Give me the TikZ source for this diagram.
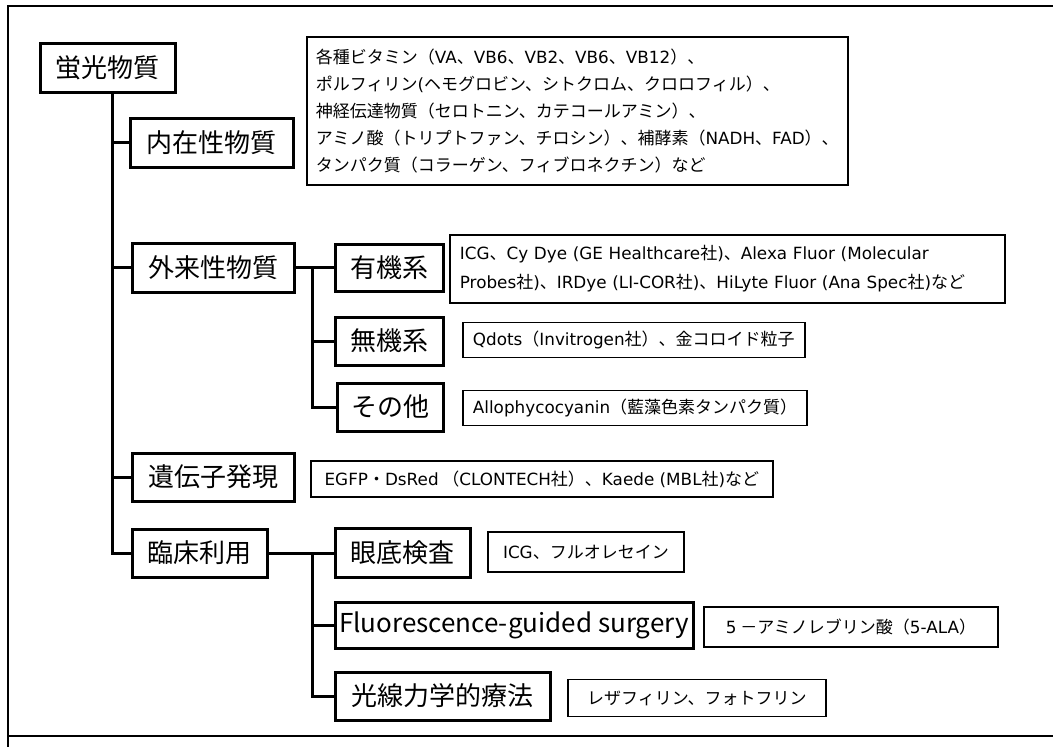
\documentclass[tikz,border=0pt]{standalone}
\usepackage{fontspec}
\setmainfont{Noto Sans CJK JP}
\newfontfamily\latfont{DejaVu Sans}
\newcommand\Lt[1]{{\latfont\fontsize{16.8}{27}\selectfont #1}}
\begin{document}
\begin{tikzpicture}[x=1pt,y=-1pt,
  big/.style={draw, line width=3pt, font=\fontsize{26}{30}\selectfont, inner sep=0pt, minimum height=48pt},
  small/.style={draw, line width=1.8pt, font=\fontsize{17}{27}\selectfont, inner xsep=10pt, inner ysep=0pt, anchor=west, align=left},
  conn/.style={line width=3pt},
  frame/.style={line width=1.5pt}]
\useasboundingbox (0,0) rectangle (1053,747);
% frame
\draw[frame] (1053,6) -- (8,6) -- (8,747);
\draw[frame] (8,736) -- (1053,736);
% main boxes
\node[big, minimum width=135pt, minimum height=49pt] (root) at (107.5,67.5) {蛍光物質};
\node[big, minimum width=163pt, minimum height=49pt] (naizai) at (211.5,142.5) {内在性物質};
\node[big, minimum width=162pt, minimum height=49pt] (gairai) at (213,267.5) {外来性物質};
\node[big, minimum width=108pt, minimum height=47pt] (yuki) at (389,267.5) {有機系};
\node[big, minimum width=108pt] (muki) at (389,341) {無機系};
\node[big, minimum width=106pt] (sonota) at (390,407) {その他};
\node[big, minimum width=162pt] (iden) at (213,477) {遺伝子発現};
\node[big, minimum width=135pt] (rinsho) at (199.5,553) {臨床利用};
\node[big, minimum width=135pt, minimum height=49pt] (gantei) at (402.5,553) {眼底検査};
\node[big, minimum width=358pt, minimum height=46pt] (fgs) at (514,625) {Fluorescence-guided surgery};
\node[big, minimum width=215pt] (kosen) at (442.5,696) {光線力学的療法};
% text boxes
\node[small, anchor=north west, minimum height=148pt, inner xsep=9pt] (t1) at (306,36) {各種ビタミン（\Lt{VA}、\Lt{VB6}、\Lt{VB2}、\Lt{VB6}、\Lt{VB12}）、\\ポルフィリン\Lt{(}ヘモグロビン、シトクロム、クロロフィル）、\\神経伝達物質（セロトニン、カテコールアミン）、\\アミノ酸（トリプトファン、チロシン）、補酵素（\Lt{NADH}、\Lt{FAD}）、\\タンパク質（コラーゲン、フィブロネクチン）など};
\node[small, minimum height=68pt, text width=535pt, font=\fontsize{17}{29}\selectfont] (t2) at (449,269) {\Lt{ICG}、\Lt{Cy Dye (GE Healthcare}社\Lt{)}、\Lt{Alexa Fluor (Molecular}\\\Lt{Probes}社\Lt{)}、\Lt{IRDye (LI-COR}社\Lt{)}、\Lt{HiLyte Fluor (Ana Spec}社\Lt{)}など};
\node[small, minimum height=35pt] (t3) at (462,340) {\Lt{Qdots}（\Lt{Invitrogen}社）、金コロイド粒子};
\node[small, minimum height=35pt] (t4) at (462,408) {\Lt{Allophycocyanin}（藍藻色素タンパク質）};
\node[small, minimum height=36pt, minimum width=462pt] (t5) at (310,479) {\Lt{EGFP}・\Lt{DsRed} （\Lt{CLONTECH}社）、\Lt{Kaede (MBL}社\Lt{)}など};
\node[small, minimum height=40pt, minimum width=196pt] (t6) at (487,552) {\Lt{ICG}、フルオレセイン};
\node[small, minimum height=40pt, minimum width=294pt] (t7) at (703,627) {\Lt{5} －アミノレブリン酸（\Lt{5-ALA}）};
\node[small, minimum height=37pt, minimum width=258pt] (t8) at (567,698) {レザフィリン、フォトフリン};
% connectors
\coordinate (tr) at (112,0);
\coordinate (st) at (312,0);
\draw[conn] (root.south -| tr) |- (rinsho.west);
\draw[conn] (tr |- naizai.west) -- (naizai.west);
\draw[conn] (tr |- gairai.west) -- (gairai.west);
\draw[conn] (tr |- iden.west) -- (iden.west);
\draw[conn] (gairai.east) -- (yuki.west);
\draw[conn] (st |- gairai.east) |- (sonota.west);
\draw[conn] (st |- muki.west) -- (muki.west);
\draw[conn] (rinsho.east) -- (gantei.west);
\draw[conn] (st |- rinsho.east) |- (kosen.west);
\draw[conn] (st |- fgs.west) -- (fgs.west);
\end{tikzpicture}
\end{document}
